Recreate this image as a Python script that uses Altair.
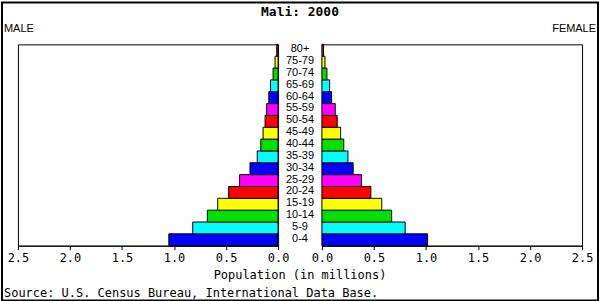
import altair as alt
import pandas as pd

# ---- data ----
ages = ["0-4", "5-9", "10-14", "15-19", "20-24", "25-29", "30-34", "35-39",
        "40-44", "45-49", "50-54", "55-59", "60-64", "65-69", "70-74", "75-79", "80+"]
male = [1.05, 0.82, 0.68, 0.58, 0.475, 0.37, 0.27, 0.20, 0.166, 0.144, 0.125,
        0.11, 0.089, 0.073, 0.048, 0.029, 0.013]
female = [1.015, 0.80, 0.67, 0.575, 0.47, 0.38, 0.30, 0.25, 0.21, 0.18, 0.147,
          0.128, 0.093, 0.074, 0.048, 0.029, 0.016]
colors = ["#0000ff", "#00ffff", "#00e000", "#ffff00", "#ff0000", "#ff00ff"] * 3
colors = colors[:len(ages)]
tick_values = [0.0, 0.5, 1.0, 1.5, 2.0, 2.5]

title_text = ["Mali: 2000"]
male_label = ["MALE"]
female_label = ["FEMALE"]
axis_title = ["Population (in millions)"]
source_text = ["Source: U.S. Census Bureau, International Data Base."]

df = pd.DataFrame({"age": ages, "male": male, "female": female})

W, H, MID = 261, 202, 44
MONO = "DejaVu Sans Mono"
SANS = "Liberation Sans"

y_enc = alt.Y("age:N", sort=ages[::-1],
              scale=alt.Scale(paddingInner=0, paddingOuter=0), axis=None)
color_enc = alt.Color("age:N", scale=alt.Scale(domain=ages, range=colors), legend=None)


def xaxis():
    return alt.Axis(values=tick_values, format=".1f", title=None, grid=False,
                    tickSize=4, labelFont=MONO, labelFontSize=12, labelColor="black",
                    domainColor="black", tickColor="black", labelPadding=3,
                    labelFlush=False, labelOverlap=False)


def text_layer(values, x, y, align="center", font=MONO, size=12, bold=False):
    return alt.Chart(pd.DataFrame({"t": values})).mark_text(
        font=font, fontSize=size, align=align, baseline="middle", color="black",
        fontWeight="bold" if bold else "normal"
    ).encode(text="t:N", x=alt.value(x), y=alt.value(y))


left_bars = alt.Chart(df).mark_bar(stroke="black", strokeWidth=1).encode(
    x=alt.X("male:Q", scale=alt.Scale(domain=[0, 2.5], reverse=True, nice=False),
            axis=xaxis()),
    y=y_enc, color=color_enc)

frame = alt.Chart(pd.DataFrame({"t": [0]})).mark_rect(
    fillOpacity=0, stroke="black", strokeWidth=2
).encode(x=alt.value(-16), x2=alt.value(582), y=alt.value(-42), y2=alt.value(257))

left = alt.layer(
    left_bars,
    text_layer(male_label, -14, -15.5, align="left", font=SANS, size=11),
    text_layer(source_text, -14, 249, align="left"),
    frame,
).properties(width=W, height=H)

mid = alt.layer(
    alt.Chart(df).mark_text(font=SANS, fontSize=11, color="black", baseline="middle",
                            dy=-1).encode(y=y_enc, text="age:N", x=alt.value(MID / 2)),
    text_layer(title_text, MID / 2, -32, size=13, bold=True),
    text_layer(axis_title, MID / 2, 231),
).properties(width=MID, height=H, view=alt.ViewBackground(stroke="transparent"))

right_bars = alt.Chart(df).mark_bar(stroke="black", strokeWidth=1).encode(
    x=alt.X("female:Q", scale=alt.Scale(domain=[0, 2.5], nice=False), axis=xaxis()),
    y=y_enc, color=color_enc)

right = alt.layer(
    right_bars,
    text_layer(female_label, W + 14, -15.5, align="right", font=SANS, size=11),
).properties(width=W, height=H)

chart = alt.hconcat(left, mid, right, spacing=0, bounds="flush").properties(
    padding=0, autosize=alt.AutoSizeParams(type="pad"), background="white"
).configure_view(stroke="black", strokeWidth=1).configure_concat(spacing=0)

chart.save("out.html", embed_options={"renderer": "svg", "actions": False})
